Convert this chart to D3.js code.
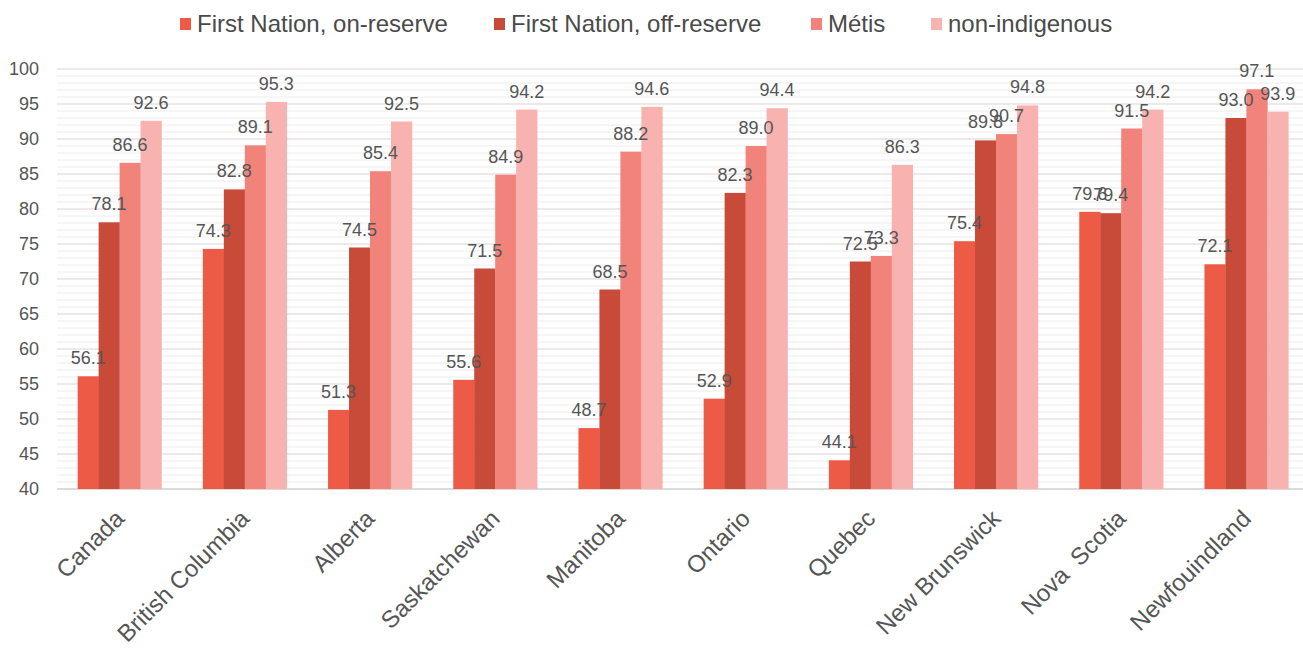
<!DOCTYPE html>
<html>
<head>
<meta charset="utf-8">
<script src="https://cdn.jsdelivr.net/npm/d3@7"></script>
<style>
  html, body { margin: 0; padding: 0; background: #fff; }
  svg { display: block; font-family: "Liberation Sans", Arial, sans-serif; }
</style>
</head>
<body>
<svg id="chart" width="1303" height="658"></svg>
<script>
// Regions shown along the x axis
const regions = ["Canada", "British Columbia", "Alberta", "Saskatchewan", "Manitoba",
                 "Ontario", "Quebec", "New Brunswick", "Nova  Scotia", "Newfouindland"];

// Population groups (one bar each per region)
const groups = ["First Nation, on-reserve", "First Nation, off-reserve", "Métis", "non-indigenous"];
const groupColors = ["#ed5a46", "#c84a39", "#f2837a", "#f8b3b1"];

// Values per group, in region order
const onReserve     = [56.1, 74.3, 51.3, 55.6, 48.7, 52.9, 44.1, 75.4, 79.6, 72.1];
const offReserve    = [78.1, 82.8, 74.5, 71.5, 68.5, 82.3, 72.5, 89.8, 79.4, 93.0];
const metis         = [86.6, 89.1, 85.4, 84.9, 88.2, 89.0, 73.3, 90.7, 91.5, 97.1];
const nonIndigenous = [92.6, 95.3, 92.5, 94.2, 94.6, 94.4, 86.3, 94.8, 94.2, 93.9];

// Y axis ticks
const yTicks = [40, 45, 50, 55, 60, 65, 70, 75, 80, 85, 90, 95, 100];

const seriesValues = [onReserve, offReserve, metis, nonIndigenous];

const svg = d3.select("#chart");

const x0 = d3.scaleBand()
  .domain(regions)
  .range([57, 1309])
  .paddingInner(0.33)
  .paddingOuter(0.165);

const x1 = d3.scaleBand()
  .domain(groups)
  .range([0, x0.bandwidth()])
  .padding(0);

const y = d3.scaleLinear()
  .domain([40, 100])
  .range([489, 69]);

// Gridlines: faint lines every unit, stronger lines at each tick
const minor = d3.range(41, 100).filter(v => v % 5 !== 0);
svg.append("g")
  .selectAll("line")
  .data(minor)
  .join("line")
  .attr("x1", 57).attr("x2", 1303)
  .attr("y1", d => y(d)).attr("y2", d => y(d))
  .attr("stroke", "#ececec")
  .attr("stroke-width", 1);

svg.append("g")
  .selectAll("line")
  .data(yTicks)
  .join("line")
  .attr("x1", 57).attr("x2", 1303)
  .attr("y1", d => y(d)).attr("y2", d => y(d))
  .attr("stroke", d => d === 40 ? "#cfcfcf" : "#dcd3d2")
  .attr("stroke-width", d => d === 40 ? 1.5 : 1.2);

// Y axis labels
svg.append("g")
  .selectAll("text")
  .data(yTicks)
  .join("text")
  .attr("x", 39)
  .attr("y", d => y(d))
  .attr("dy", "0.35em")
  .attr("text-anchor", "end")
  .attr("font-size", 18)
  .attr("fill", "#555")
  .text(d => d);

// Bars
const rows = regions.map((r, i) => ({
  region: r,
  values: groups.map((g, j) => ({ group: g, value: seriesValues[j][i], color: groupColors[j] }))
}));

const groupSel = svg.append("g")
  .selectAll("g")
  .data(rows)
  .join("g")
  .attr("transform", d => `translate(${x0(d.region)},0)`);

groupSel.selectAll("rect")
  .data(d => d.values)
  .join("rect")
  .attr("x", d => x1(d.group))
  .attr("width", x1.bandwidth() + 0.3)
  .attr("y", d => y(d.value))
  .attr("height", d => y(40) - y(d.value))
  .attr("fill", d => d.color);

// Value labels above each bar
groupSel.selectAll("text")
  .data(d => d.values)
  .join("text")
  .attr("x", d => x1(d.group) + x1.bandwidth() / 2)
  .attr("y", d => y(d.value) - 12)
  .attr("text-anchor", "middle")
  .attr("font-size", 18)
  .attr("fill", "#555")
  .text(d => d.value.toFixed(1));

// Rotated region labels
svg.append("g")
  .selectAll("text")
  .data(regions)
  .join("text")
  .attr("transform", d => `translate(${x0(d) + x0.bandwidth() / 2 + 6},${520}) rotate(-45)`)
  .attr("text-anchor", "end")
  .attr("font-size", 24)
  .attr("fill", "#555")
  .attr("xml:space", "preserve")
  .style("white-space", "pre")
  .text(d => d);

// Legend
const legendX = [180, 494, 811, 931];
const legend = svg.append("g")
  .selectAll("g")
  .data(groups)
  .join("g")
  .attr("transform", (d, i) => `translate(${legendX[i]},0)`);

legend.append("rect")
  .attr("x", 0).attr("y", 18)
  .attr("width", 11).attr("height", 12)
  .attr("fill", (d, i) => groupColors[i]);

legend.append("text")
  .attr("x", 17).attr("y", 24)
  .attr("dy", "0.35em")
  .attr("font-size", 24)
  .attr("fill", "#4a4a4a")
  .text(d => d);
</script>
</body>
</html>
